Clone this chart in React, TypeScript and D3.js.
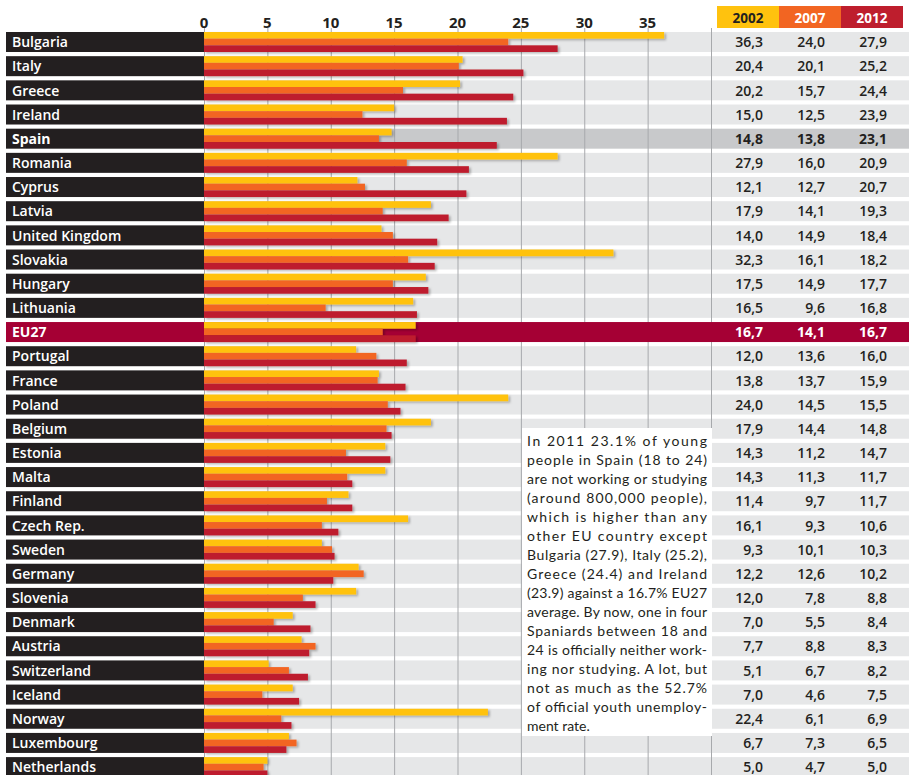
import React from 'react';
import * as d3 from 'd3';

// rows, top to bottom
const countries = [
  'Bulgaria', 'Italy', 'Greece', 'Ireland', 'Spain', 'Romania', 'Cyprus', 'Latvia',
  'United Kingdom', 'Slovakia', 'Hungary', 'Lithuania', 'EU27', 'Portugal', 'France',
  'Poland', 'Belgium', 'Estonia', 'Malta', 'Finland', 'Czech Rep.', 'Sweden', 'Germany',
  'Slovenia', 'Denmark', 'Austria', 'Switzerland', 'Iceland', 'Norway', 'Luxembourg',
  'Netherlands',
];
const years = ['2002', '2007', '2012'];
const v2002 = [36.3, 20.4, 20.2, 15.0, 14.8, 27.9, 12.1, 17.9, 14.0, 32.3, 17.5, 16.5, 16.7, 12.0, 13.8,
  24.0, 17.9, 14.3, 14.3, 11.4, 16.1, 9.3, 12.2, 12.0, 7.0, 7.7, 5.1, 7.0, 22.4, 6.7, 5.0];
const v2007 = [24.0, 20.1, 15.7, 12.5, 13.8, 16.0, 12.7, 14.1, 14.9, 16.1, 14.9, 9.6, 14.1, 13.6, 13.7,
  14.5, 14.4, 11.2, 11.3, 9.7, 9.3, 10.1, 12.6, 7.8, 5.5, 8.8, 6.7, 4.6, 6.1, 7.3, 4.7];
const v2012 = [27.9, 25.2, 24.4, 23.9, 23.1, 20.9, 20.7, 19.3, 18.4, 18.2, 17.7, 16.8, 16.7, 16.0, 15.9,
  15.5, 14.8, 14.7, 11.7, 11.7, 10.6, 10.3, 10.2, 8.8, 8.4, 8.3, 8.2, 7.5, 6.9, 6.5, 5.0];
const tickValues = [0, 5, 10, 15, 20, 25, 30, 35, 40];
const tickLabels = ['0', '5', '10', '15', '20', '25', '30', '35', ''];
const noteLines = [
  'In 2011 23.1% of young',
  'people in Spain (18 to 24)',
  'are not working or studying',
  '(around 800,000 people),',
  'which is higher than any',
  'other EU country except',
  'Bulgaria (27.9), Italy (25.2),',
  'Greece (24.4) and Ireland',
  '(23.9) against a 16.7% EU27',
  'average. By now, one in four',
  'Spaniards between 18 and',
  '24 is officially neither work-',
  'ing nor studying. A lot, but',
  'not as much as the 52.7%',
  'of official youth unemploy-',
  'ment rate.',
];

const series = [v2002, v2007, v2012];
const colors = ['#ffc20e', '#f26522', '#be1e2d'];
const dark = '#231f20';
const font = '"Open Sans", "Noto Sans", sans-serif';

const W = 909;
const H = 775;

const App = () => {
  const x = d3.scaleLinear().domain([0, 40]).range([204, 711]);

  const step = 24.17;
  const y = d3.scaleBand()
    .domain(countries)
    .range([32, 32 + countries.length * step - 4.17])
    .paddingInner(4.17 / step)
    .paddingOuter(0);
  const sub = d3.scaleBand().domain(years).range([0, y.bandwidth()]);

  const col = d3.scaleBand().domain(years).range([717, 903]);
  const loc = d3.formatLocale({ decimal: ',', thousands: '.', grouping: [3], currency: ['', '€'] });
  const fmt = loc.format('.1f');

  const noteY = d3.scaleLinear().domain([0, noteLines.length - 1]).range([446, 731]);

  return (
    <svg width={W} height={H} style={{ position: 'absolute', left: 0, top: 0, background: '#fff' }}
      fontFamily={font}>
      <defs>
        <filter id="sh" x="-5%" y="-50%" width="115%" height="250%">
          <feDropShadow dx="2" dy="1.5" stdDeviation="1" floodColor="#000" floodOpacity="0.28" />
        </filter>
      </defs>

      {/* row backgrounds */}
      {countries.map((c) => (
        <g key={'bg' + c}>
          <rect x={6} y={y(c)} width={198} height={y.bandwidth()} fill={c === 'EU27' ? '#a50034' : dark} />
          {c !== 'EU27' && (
            <rect x={204} y={y(c)} width={W - 204} height={y.bandwidth()}
              fill={c === 'Spain' ? '#c8c9cb' : '#e6e7e8'} />
          )}
        </g>
      ))}

      {/* gridlines */}
      {tickValues.map((t) => (
        <line key={'g' + t} x1={x(t) + 0.5} x2={x(t) + 0.5} y1={28} y2={H}
          stroke="#a7a9ac" strokeWidth={1} />
      ))}

      {/* EU27 row on top of gridlines */}
      <rect x={204} y={y('EU27')} width={W - 204} height={y.bandwidth()} fill="#a50034" />

      {/* tick labels */}
      {tickValues.map((t, i) => (
        <text key={'t' + t} x={x(t)} y={28} textAnchor="middle" fontSize={15}
          fontWeight={700} fill={dark}>{tickLabels[i]}</text>
      ))}

      {/* bars */}
      <g filter="url(#sh)">
        {countries.map((c, i) => (
          <g key={'b' + c}>
            {years.map((yr, k) => (
              <rect key={yr} x={x(0)} y={(y(c) as number) + (sub(yr) as number)}
                width={x(series[k][i]) - x(0)} height={sub.bandwidth()} fill={colors[k]} />
            ))}
          </g>
        ))}
      </g>

      {/* country labels */}
      {countries.map((c) => {
        const strong = c === 'Spain' || c === 'EU27';
        return (
          <text key={'l' + c} x={12} y={(y(c) as number) + y.bandwidth() / 2} dy="0.37em"
            fontSize={14} fontWeight={strong ? 700 : 600} fill="#fff">{c}</text>
        );
      })}

      {/* table header */}
      {years.map((yr, k) => (
        <g key={'h' + yr}>
          <rect x={col(yr)} y={6} width={col.bandwidth()} height={22} fill={colors[k]} />
          <text x={(col(yr) as number) + col.bandwidth() / 2} y={23} textAnchor="middle"
            fontSize={13.5} fontWeight={700} fill={k === 0 ? dark : '#fff'}>{yr}</text>
        </g>
      ))}

      {/* table values */}
      {countries.map((c, i) => {
        const strong = c === 'Spain' || c === 'EU27';
        return years.map((yr, k) => (
          <text key={'v' + c + yr} x={(col(yr) as number) + 46}
            y={(y(c) as number) + y.bandwidth() / 2} dy="0.37em" textAnchor="end"
            fontSize={14} fontWeight={strong ? 700 : 600}
            fill={c === 'EU27' ? '#fff' : dark}>{fmt(series[k][i])}</text>
        ));
      })}

      {/* note box */}
      <rect x={522} y={428} width={190} height={308} fill="#fff" />
      {noteLines.map((ln, i) => {
        const last = i === noteLines.length - 1;
        return (
          <text key={'n' + i} x={527} y={noteY(i)} fontSize={14} fill={dark}
            fontFamily='Lato, "Open Sans", sans-serif'
            {...(last ? {} : { textLength: 180, lengthAdjust: 'spacing' })}>{ln}</text>
        );
      })}
    </svg>
  );
};

export default App;
